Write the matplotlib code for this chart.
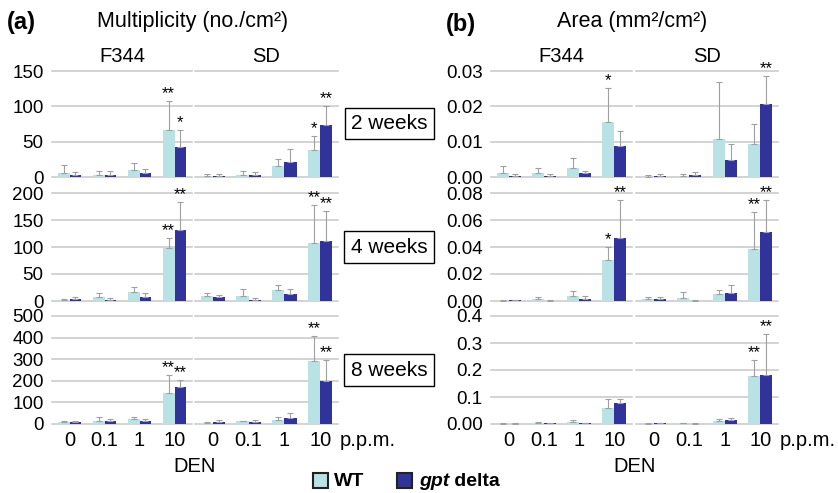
import numpy as np
import matplotlib
matplotlib.use("Agg")
import matplotlib.pyplot as plt
from matplotlib.patches import Rectangle
from matplotlib.text import Annotation

plt.rcParams['font.family'] = ['Liberation Sans', 'DejaVu Sans']

doses = ["0", "0.1", "1", "10"]
strains = ["F344", "SD"]
weeks = ["2 weeks", "4 weeks", "8 weeks"]

# each list: F344 (0, 0.1, 1, 10 ppm) then SD (0, 0.1, 1, 10 ppm)
# Multiplicity (no./cm2)
mult_wt_2w = [6, 3, 9.5, 67, 1, 3, 15.5, 38]
mult_wt_err_2w = [11, 5, 10, 41, 3, 5, 10, 19.5]
mult_gpt_2w = [3.5, 3.3, 5.5, 43, 1.5, 3, 21, 73.5]
mult_gpt_err_2w = [3.5, 5.5, 5.5, 23, 3, 4, 19, 27]
mult_wt_star_2w = ["", "", "", "**", "", "", "", "*"]
mult_gpt_star_2w = ["", "", "", "*", "", "", "", "**"]

mult_wt_4w = [2.5, 8, 17, 99, 9, 9, 21, 108]
mult_wt_err_4w = [2, 7.5, 9, 17, 5, 14, 9, 70]
mult_gpt_4w = [3, 1, 7, 131, 7, 2.5, 12.5, 112]
mult_gpt_err_4w = [4, 4, 8.5, 53, 5, 3.5, 10.5, 54]
mult_wt_star_4w = ["", "", "", "**", "", "", "", "**"]
mult_gpt_star_4w = ["", "", "", "**", "", "", "", "**"]

mult_wt_8w = [8, 12, 25, 143, 3, 12, 20, 291]
mult_wt_err_8w = [4, 19, 6, 82, 4, 3, 11, 115]
mult_gpt_8w = [11, 14, 15, 169, 8, 8, 29, 198]
mult_gpt_err_8w = [3, 8, 8, 33, 10, 9, 20, 99]
mult_wt_star_8w = ["", "", "", "**", "", "", "", "**"]
mult_gpt_star_8w = ["", "", "", "**", "", "", "", "**"]

# Area (mm2/cm2)
area_wt_2w = [0.0011, 0.0012, 0.0025, 0.0155, 0.0001, 0.0004, 0.0108, 0.0092]
area_wt_err_2w = [0.0019, 0.0014, 0.0028, 0.0098, 0.0005, 0.0005, 0.0161, 0.0057]
area_gpt_2w = [0.0003, 0.0003, 0.001, 0.0089, 0.0004, 0.0005, 0.0047, 0.0207]
area_gpt_err_2w = [0.0005, 0.0005, 0.0007, 0.0042, 0.0005, 0.0009, 0.0046, 0.0078]
area_wt_star_2w = ["", "", "", "*", "", "", "", ""]
area_gpt_star_2w = ["", "", "", "", "", "", "", "**"]

area_wt_4w = [0.0003, 0.0018, 0.004, 0.0305, 0.0018, 0.0023, 0.005, 0.0383]
area_wt_err_4w = [0.0005, 0.0015, 0.0033, 0.0093, 0.0012, 0.0042, 0.0033, 0.0277]
area_gpt_4w = [0.0005, 0.0003, 0.0018, 0.0463, 0.0013, 0.0003, 0.0058, 0.0508]
area_gpt_err_4w = [0.0003, 0.0005, 0.002, 0.0285, 0.0015, 0.0007, 0.0062, 0.024]
area_wt_star_4w = ["", "", "", "*", "", "", "", "**"]
area_gpt_star_4w = ["", "", "", "**", "", "", "", "**"]

area_wt_8w = [0.001, 0.002, 0.007, 0.061, 0.001, 0.003, 0.011, 0.179]
area_wt_err_8w = [0.001, 0.004, 0.008, 0.033, 0.001, 0.002, 0.006, 0.059]
area_gpt_8w = [0.001, 0.003, 0.003, 0.078, 0.002, 0.001, 0.015, 0.181]
area_gpt_err_8w = [0.001, 0.001, 0.001, 0.013, 0.001, 0.001, 0.007, 0.152]
area_wt_star_8w = ["", "", "", "", "", "", "", "**"]
area_gpt_star_8w = ["", "", "", "", "", "", "", "**"]

mult_ticks = [[0, 50, 100, 150], [0, 50, 100, 150, 200], [0, 100, 200, 300, 400, 500]]
mult_ticklabels = [[str(t) for t in tk] for tk in mult_ticks]
area_ticks = [[0, 0.01, 0.02, 0.03], [0, 0.02, 0.04, 0.06, 0.08], [0, 0.1, 0.2, 0.3, 0.4]]
area_ticklabels = [["0.00", "0.01", "0.02", "0.03"],
                   ["0.00", "0.02", "0.04", "0.06", "0.08"],
                   ["0.00", "0.1", "0.2", "0.3", "0.4"]]

WT_C = '#b8e2e4'
GPT_C = '#32339a'
GRID_C = '#c8c8c8'
ERR_C = '#a0a0a0'

W, H = 838, 493
fig = plt.figure(figsize=(W / 100, H / 100), dpi=100)


def fx(px):
    return px / W


def fy(py):
    return 1 - py / H


def add_ax(x0, x1, y0, y1):
    return fig.add_axes([fx(x0), fy(y1), fx(x1 - x0), (y1 - y0) / H])


panel_x = {'mult': [(52, 192), (195, 338)], 'area': [(491, 632), (636, 778)]}
row_y = [(71, 177), (193, 301), (316, 424)]

mult_data = [
    (mult_wt_2w, mult_wt_err_2w, mult_gpt_2w, mult_gpt_err_2w, mult_wt_star_2w, mult_gpt_star_2w),
    (mult_wt_4w, mult_wt_err_4w, mult_gpt_4w, mult_gpt_err_4w, mult_wt_star_4w, mult_gpt_star_4w),
    (mult_wt_8w, mult_wt_err_8w, mult_gpt_8w, mult_gpt_err_8w, mult_wt_star_8w, mult_gpt_star_8w),
]
area_data = [
    (area_wt_2w, area_wt_err_2w, area_gpt_2w, area_gpt_err_2w, area_wt_star_2w, area_gpt_star_2w),
    (area_wt_4w, area_wt_err_4w, area_gpt_4w, area_gpt_err_4w, area_wt_star_4w, area_gpt_star_4w),
    (area_wt_8w, area_wt_err_8w, area_gpt_8w, area_gpt_err_8w, area_wt_star_8w, area_gpt_star_8w),
]

x = np.arange(len(doses))
bw = 0.34

for panel, data, ticks, ticklabels in [('mult', mult_data, mult_ticks, mult_ticklabels),
                                       ('area', area_data, area_ticks, area_ticklabels)]:
    for r in range(3):
        wt, wt_err, gpt, gpt_err, wt_star, gpt_star = data[r]
        for s in range(2):
            x0, x1 = panel_x[panel][s]
            ax = add_ax(x0, x1, row_y[r][0], row_y[r][1])
            sl = slice(4 * s, 4 * s + 4)
            m1, e1, m2, e2 = (np.array(v[sl]) for v in (wt, wt_err, gpt, gpt_err))
            ax.bar(x - bw / 2, m1, bw, color=WT_C, zorder=2)
            ax.bar(x + bw / 2, m2, bw, color=GPT_C, zorder=2)
            zeros = np.zeros(4)
            ax.errorbar(x - bw / 2, m1, yerr=[zeros, e1], fmt='none', ecolor=ERR_C,
                        elinewidth=0.8, capsize=2.2, capthick=0.8, zorder=3)
            ax.errorbar(x + bw / 2, m2, yerr=[zeros, e2], fmt='none', ecolor=ERR_C,
                        elinewidth=0.8, capsize=2.2, capthick=0.8, zorder=3)
            for xi, top, st in zip(x - bw / 2, m1 + e1, wt_star[sl]):
                if st:
                    ax.annotate(st, (xi, top), xytext=(0, 2), textcoords='offset points',
                                ha='center', va='baseline', fontsize=12, annotation_clip=False)
            for xi, top, st in zip(x + bw / 2, m2 + e2, gpt_star[sl]):
                if st:
                    ax.annotate(st, (xi, top), xytext=(0, 2), textcoords='offset points',
                                ha='center', va='baseline', fontsize=12, annotation_clip=False)

            ax.set_xlim(-0.5, 3.5)
            ax.set_ylim(ticks[r][0], ticks[r][-1])
            ax.set_yticks(ticks[r])
            ax.yaxis.grid(True, color=GRID_C, lw=1.1)
            for gl in ax.get_ygridlines():
                gl.set_clip_on(False)
            ax.set_axisbelow(True)
            for sp in ax.spines.values():
                sp.set_visible(False)
            ax.tick_params(length=0, labelsize=13.5, pad=6)
            if s == 0:
                ax.set_yticklabels(ticklabels[r])
            else:
                ax.set_yticklabels([])
            if r == 2:
                ax.set_xticks(x)
                ax.set_xticklabels(doses, fontsize=14.5)
                ax.tick_params(axis='x', pad=5)
            else:
                ax.set_xticks([])
            ax.patch.set_alpha(0)

# panel labels and titles
fig.text(fx(7), fy(23), "(a)", fontsize=17, fontweight='bold', va='center', ha='left')
fig.text(fx(193), fy(21), "Multiplicity (no./cm²)", fontsize=15.5, va='center', ha='center')
fig.text(fx(446), fy(25), "(b)", fontsize=17, fontweight='bold', va='center', ha='left')
fig.text(fx(632), fy(22), "Area (mm²/cm²)", fontsize=15.5, va='center', ha='center')

for panel in ['mult', 'area']:
    for s, name in enumerate(strains):
        x0, x1 = panel_x[panel][s]
        fig.text(fx((x0 + x1) / 2), fy(56), name, fontsize=14.5, ha='center', va='center')

for cx in [(52 + 338) / 2, (491 + 778) / 2]:
    fig.text(fx(cx), fy(466), "DEN", fontsize=14.5, ha='center', va='center')
fig.text(fx(340), fy(441), "p.p.m.", fontsize=14.5, ha='left', va='center')
fig.text(fx(780), fy(441), "p.p.m.", fontsize=14.5, ha='left', va='center')

# week boxes
for label, cy in zip(weeks, [123.5, 247, 370]):
    fig.text(fx(389), fy(cy), label, fontsize=15, ha='center', va='center',
             bbox=dict(boxstyle='square,pad=0.3', fc='white', ec='black', lw=1))

# legend
fig.add_artist(Rectangle((fx(313), fy(488)), fx(15), 15 / H, transform=fig.transFigure,
                         fc=WT_C, ec='#222222', lw=1.5))
fig.text(fx(334), fy(481), "WT", fontsize=14, fontweight='bold', ha='left', va='center')
fig.add_artist(Rectangle((fx(397), fy(488)), fx(15), 15 / H, transform=fig.transFigure,
                         fc=GPT_C, ec='#222222', lw=1.5))
gpt_txt = fig.text(fx(419), fy(481), "gpt", fontsize=14, fontweight='bold', style='italic',
                   ha='left', va='center')
fig.add_artist(Annotation(" delta", xy=(1, 0), xycoords=gpt_txt, fontsize=14,
                          fontweight='bold', ha='left', va='bottom'))

fig.savefig("out.png", dpi=100)
